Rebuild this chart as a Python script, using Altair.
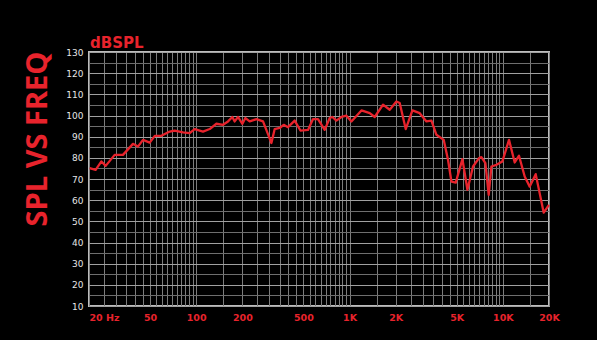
import altair as alt
import pandas as pd

# Frequency response trace (Hz, dB SPL)
freq_hz = [20.2, 22.1, 24.1, 25.7, 29.4, 33.3, 38.7, 41.7, 45.0, 49.8, 53.7, 59.3,
           67.2, 72.4, 82.0, 90.7, 97.8, 110.8, 122.5, 135.5, 149.6, 161.3, 172.2,
           178.3, 187.4, 200.2, 209.5, 223.4, 247.2, 272.9, 289.7, 309.5, 325.2,
           350.4, 372.2, 397.2, 439.1, 478.4, 536.3, 578.0, 623.1, 689.0, 742.8,
           773.6, 821.3, 885.5, 954.5, 1029, 1196, 1355, 1460, 1654, 1829, 2022,
           2125, 2326, 2572, 2870, 3174, 3422, 3688, 4115, 4389, 4620, 4929, 5450,
           5876, 6390, 6992, 7249, 7696, 8088, 8422, 9080, 9934, 10970, 11952,
           12748, 13886, 14970, 16380, 18478, 20000]
spl_db = [75.1, 74.3, 78.3, 76.2, 81.4, 81.4, 86.6, 85.3, 88.5, 87.2, 90.4, 90.4,
          92.4, 92.9, 92.0, 91.7, 93.6, 92.4, 93.6, 96.1, 95.6, 97.2, 99.3,
          97.2, 99.3, 96.1, 98.8, 97.2, 98.3, 97.2, 92.4, 87.0, 93.6,
          94.1, 95.6, 94.5, 97.6, 92.9, 93.2, 98.3, 98.3, 93.2, 98.8,
          99.3, 97.6, 99.3, 99.9, 97.2, 102.4, 101.1, 99.3, 105.1, 102.7, 106.6,
          105.9, 93.6, 102.4, 101.1, 97.2, 97.6, 90.9, 88.5, 79.1, 68.8, 68.3, 79.4,
          64.9, 75.9, 79.9, 80.3, 77.5, 62.5, 75.9, 76.7, 78.3, 88.5, 77.8,
          81.0, 71.2, 66.4, 72.3, 54.1, 57.8]

# Axis ticks / grid positions
x_grid = [20, 25, 30, 35, 40, 45, 50, 55, 60, 65, 70, 75, 80, 85, 90, 95,
          100, 150, 200, 250, 300, 350, 400, 450, 500, 550, 600, 650, 700, 750,
          800, 850, 900, 950, 1000, 1500, 2000, 2500, 3000, 3500, 4000, 4500,
          5000, 5500, 6000, 6500, 7000, 7500, 8000, 8500, 9000, 9500, 10000,
          15000, 20000]
x_label_vals = [20, 50, 100, 200, 500, 1000, 2000, 5000, 10000, 20000]
x_label_txt = ["20  Hz", "50", "100", "200", "500", "1K", "2K", "5K", "10K", "20K"]
y_grid = [10, 15, 20, 25, 30, 35, 40, 45, 50, 55, 60, 65, 70, 75, 80, 85, 90,
          95, 100, 105, 110, 115, 120, 125, 130]

RED = "#e8232c"
FONT = "Open Sans"
WIDE = "DejaVu Sans"

x_expr = " : ".join(
    f"datum.value == {v} ? '{t}'" for v, t in zip(x_label_vals, x_label_txt)
) + " : ''"

df = pd.DataFrame({"freq": freq_hz, "spl": spl_db})

line = alt.Chart(df).mark_line(color=RED, strokeWidth=2.3, strokeJoin="round").encode(
    x=alt.X("freq:Q",
            scale=alt.Scale(type="log", domain=[20, 20000], nice=False),
            axis=alt.Axis(values=x_grid, labelExpr=x_expr, title=None, ticks=False,
                          domain=False, labelColor=RED, labelFont=WIDE,
                          labelFontWeight="bold", labelFontSize=9.5, labelPadding=6,
                          labelOverlap=False, labelBound=False, labelFlush=False,
                          labelAlign={"condition": {"test": "datum.value == 20", "value": "left"},
                                      "value": "center"},
                          gridColor="#7c7c7c", gridWidth=1)),
    y=alt.Y("spl:Q",
            scale=alt.Scale(domain=[10, 130], nice=False, zero=False),
            axis=alt.Axis(values=y_grid,
                          labelExpr="datum.value % 10 == 0 ? datum.value : ''",
                          title=None, ticks=False, domain=False,
                          labelColor="#e6e6e6", labelFont=WIDE, labelFontSize=9,
                          labelPadding=6, labelOverlap=False,
                          gridColor={"condition": {"test": "datum.value % 10 == 0", "value": "#a0a0a0"},
                                     "value": "#6e6e6e"},
                          gridWidth=1)),
)

side_title = alt.Chart(pd.DataFrame({"t": ["SPL VS FREQ"]})).mark_text(
    angle=270, align="center", baseline="middle", font=FONT, fontWeight="bold",
    fontSize=29, color=RED
).encode(x=alt.value(-51), y=alt.value(87), text="t:N")

unit_title = alt.Chart(pd.DataFrame({"t": ["dBSPL"]})).mark_text(
    align="left", baseline="alphabetic", font=WIDE, fontWeight="bold",
    fontSize=15, color=RED
).encode(x=alt.value(1), y=alt.value(-4), text="t:N")

chart = alt.layer(line, side_title, unit_title).properties(
    width=460, height=254,
    autosize="none",
    padding={"left": 89, "top": 52, "right": 48, "bottom": 34},
).configure(background="black").configure_view(stroke="#bdbdbd", strokeWidth=2)

chart.save("out.html", embed_options={"renderer": "svg", "actions": False})
